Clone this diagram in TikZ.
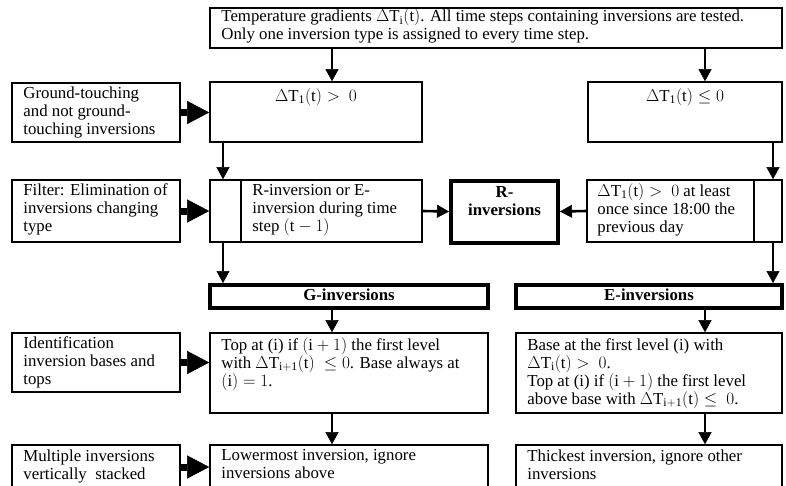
\documentclass[tikz,border=0pt]{standalone}
\usepackage{fontspec}
\setmainfont{Liberation Serif}
\usetikzlibrary{arrows.meta}

\begin{document}
\begin{tikzpicture}[x=1pt,y=-1pt]

\tikzset{box/.style = {draw, line width=1.6pt, inner sep=0pt}}
\tikzset{heavy/.style = {draw, line width=4pt, inner sep=0pt}}
\tikzset{txt/.style = {inner sep=0pt, align=left, font=\fontsize{16.8}{18}\selectfont, execute at begin node=\strut}}
\tikzset{edge/.style = {line width=2.6pt, -{Triangle[length=12pt,width=13pt,line width=0.5pt]}}}
\tikzset{fat/.style = {line width=7pt, -{Triangle[length=22pt,width=23pt,line width=0.5pt]}}}

\useasboundingbox (0,0) rectangle (786,485);
\clip (0,0) rectangle (786,485);

%columns for the arrows
\coordinate (colL) at (223,0);
\coordinate (colG) at (332,0);
\coordinate (colE) at (705,0);
\coordinate (colR) at (773,0);

%boxes
\node[box, minimum width=572, minimum height=40] (t) at (496,28) {};
\node[box, minimum width=168, minimum height=59] (g1) at (96,112.5) {};
\node[box, minimum width=212, minimum height=60] (d1) at (316,112) {};
\node[box, minimum width=194, minimum height=60] (d2) at (685,112) {};
\node[box, minimum width=168, minimum height=62] (f) at (96,211) {};
\node[box, minimum width=212, minimum height=62] (m) at (316,211) {};
\node[heavy, minimum width=107, minimum height=62] (r) at (504.5,211.5) {};
\node[box, minimum width=195, minimum height=62] (rt) at (684.5,211) {};
\node[heavy, minimum width=278, minimum height=23] (g) at (349,296.5) {};
\node[heavy, minimum width=266, minimum height=23] (e) at (649,296.5) {};
\node[box, minimum width=168, minimum height=59] (i) at (96,362.5) {};
\node[box, minimum width=278, minimum height=80] (tg) at (349,373) {};
\node[box, minimum width=266, minimum height=80] (be) at (649,373) {};
\node[box, minimum width=168, minimum height=44] (mu) at (96,467) {};
\node[box, minimum width=278, minimum height=44] (lo) at (349,467) {};
\node[box, minimum width=266, minimum height=44] (th) at (649,467) {};

%dividers
\draw[line width=1.6pt] ([shift={(32,0)}]m.north west) -- ([shift={(32,0)}]m.south west);
\draw[line width=1.6pt] ([shift={(-29,0)}]rt.north east) -- ([shift={(-29,0)}]rt.south east);

%texts
\node[txt, anchor=north west] (tt) at ([shift={(12,2.4)}]t.north west) {Temperature gradients \smash{$\Delta\mathrm{T_i(t)}$}. All time steps containing inversions are tested.\\Only one inversion type is assigned to every time step.};
\node[txt, anchor=north west] (g1t) at ([shift={(12,4.4)}]g1.north west) {Ground-touching\\and not ground-\\touching inversions};
\node[txt, anchor=north] (d1t) at ([shift={(0,7)}]d1.north) {$\Delta\mathrm{T_1(t)} >\ 0$};
\node[txt, anchor=north] (d2t) at ([shift={(0,7)}]d2.north) {$\Delta\mathrm{T_1(t)} \le 0$};
\node[txt, anchor=north west] (ft) at ([shift={(12,4.4)}]f.north west) {Filter: Elimination of\\inversions changing\\type};
\node[txt, anchor=north west] (mt) at ([shift={(43,5)}]m.north west) {R-inversion or E-\\inversion during time\\step \smash{$(\mathrm{t}-1)$}};
\node[txt, anchor=north, align=center, font=\fontsize{16.8}{18}\selectfont\bfseries] (rtx) at ([shift={(0,7.5)}]r.north) {R-\\inversions};
\node[txt, anchor=north west] (rtt) at ([shift={(11,5)}]rt.north west) {\smash{$\Delta\mathrm{T_1(t)} >\ 0$} at least\\once since 18:00 the\\previous day};
\node[txt, font=\fontsize{16.8}{18}\selectfont\bfseries] (gt) at (g) {G-inversions};
\node[txt, font=\fontsize{16.8}{18}\selectfont\bfseries] (et) at (e) {E-inversions};
\node[txt, anchor=north west] (it) at ([shift={(12,4.4)}]i.north west) {Identification\\inversion bases and\\tops};
\node[txt, anchor=north west] (tgt) at ([shift={(12,6)}]tg.north west) {Top at (i) if \smash{$(\mathrm{i}+1)$} the first level\\with \smash{$\Delta\mathrm{T_{i+1}(t)}\ \le 0$}. Base always at\\\smash{$(\mathrm{i}) = 1$}.};
\node[txt, anchor=north west] (bet) at ([shift={(12,6)}]be.north west) {Base at the first level (i) with\\ \smash{$\Delta\mathrm{T_i(t)} >\ 0$}.\\Top at (i) if \smash{$(\mathrm{i}+1)$} the first level\\above base with \smash{$\Delta\mathrm{T_{i+1}(t)} \le\ 0$}.};
\node[txt, anchor=north west] (mut) at ([shift={(12,5)}]mu.north west) {Multiple inversions\\vertically\ \ stacked};
\node[txt, anchor=north west] (lot) at ([shift={(12,5)}]lo.north west) {Lowermost inversion, ignore\\inversions above};
\node[txt, anchor=north west] (tht) at ([shift={(12,5)}]th.north west) {Thickest inversion, ignore other\\inversions};

%arrows
\draw[edge] (t.south -| colG) -- (d1.north -| colG);
\draw[edge] (t.south -| colE) -- (d2.north -| colE);
\draw[edge] (d1.south -| colL) -- (m.north -| colL);
\draw[edge] (d2.south -| colR) -- (rt.north -| colR);
\draw[edge] (m.south -| colL) -- (g.north -| colL);
\draw[edge] (rt.south -| colR) -- (e.north -| colR);
\draw[edge] (g.south -| colG) -- (tg.north -| colG);
\draw[edge] (e.south -| colE) -- (be.north -| colE);
\draw[edge] (tg.south -| colG) -- (lo.north -| colG);
\draw[edge] (be.south -| colE) -- (th.north -| colE);
\draw[edge] (m.east) -- (r.west);
\draw[edge] (rt.west) -- (r.east);

\draw[fat] (g1.east) -- (g1.east -| d1.west);
\draw[fat] (f.east) -- (f.east -| m.west);
\draw[fat] (i.east) -- (i.east -| tg.west);
\draw[fat] (mu.east) -- (mu.east -| lo.west);

\end{tikzpicture}
\end{document}
